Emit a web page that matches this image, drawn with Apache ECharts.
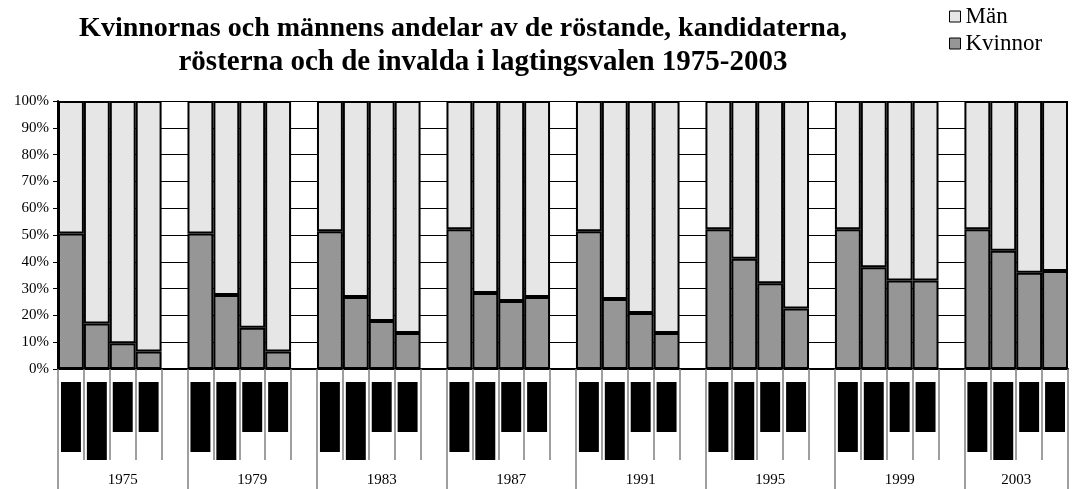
<!DOCTYPE html>
<html>
<head>
<meta charset="utf-8">
<script src="https://cdn.jsdelivr.net/npm/echarts@6/dist/echarts.min.js"></script>
<style>
html, body { margin: 0; padding: 0; background: #fff; }
#chart { width: 1084px; height: 489px; }
</style>
</head>
<body>
<div id="chart"></div>
<script>
// valår
const years = ['1975', '1979', '1983', '1987', '1991', '1995', '1999', '2003']

// kvinnornas andel (%) per valår
const kvinnorRostande = [50.6, 50.6, 51.4, 52.1, 51.4, 52.1, 52.1, 52.1]
const kvinnorKandidater = [17.0, 27.6, 26.9, 28.4, 26.1, 41.1, 38.0, 44.1]
const kvinnorRoster = [9.6, 15.4, 17.9, 25.4, 20.9, 32.0, 33.0, 35.9]
const kvinnorInvalda = [6.5, 6.5, 13.4, 26.9, 13.4, 22.6, 33.0, 36.6]

// männens andel (%) per valår
const manRostande = [49.4, 49.4, 48.6, 47.9, 48.6, 47.9, 47.9, 47.9]
const manKandidater = [83.0, 72.4, 73.1, 71.6, 73.9, 58.9, 62.0, 55.9]
const manRoster = [90.4, 84.6, 82.1, 74.6, 79.1, 68.0, 67.0, 64.1]
const manInvalda = [93.5, 93.5, 86.6, 73.1, 86.6, 77.4, 67.0, 63.4]

// svarta etikettblock under varje stapel (längd per mått)
const labelBlockLengths = [70, 78, 50, 50]

const yTicks = [0, 10, 20, 30, 40, 50, 60, 70, 80, 90, 100]

const kvinnorByMeasure = [kvinnorRostande, kvinnorKandidater, kvinnorRoster, kvinnorInvalda]
const manByMeasure = [manRostande, manKandidater, manRoster, manInvalda]

// bygg kategorier: 4 staplar per år + en tom lucka mellan grupperna
const categories = []
const kvinnorData = []
const manData = []
const blockData = []
const yearLabelAt = {}
years.forEach((year, g) => {
  const start = categories.length
  for (let m = 0; m < 4; m++) {
    categories.push(year + '-' + m)
    kvinnorData.push(kvinnorByMeasure[m][g])
    manData.push(manByMeasure[m][g])
    blockData.push(labelBlockLengths[m])
  }
  yearLabelAt[start + 2] = g
  if (g < years.length - 1) {
    categories.push(year + '-gap')
    kvinnorData.push('-')
    manData.push('-')
    blockData.push('-')
  }
})
const groupStarts = years.map((y, g) => g * 5)

const serif = "'Liberation Serif', 'Times New Roman', serif"

const chart = echarts.init(document.getElementById('chart'))
chart.setOption({
  animation: false,
  backgroundColor: '#fff',
  title: [
    {
      text: 'Kvinnornas och männens andelar av de röstande, kandidaterna,',
      left: 458,
      top: 10,
      textAlign: 'center',
      textStyle: { fontFamily: serif, fontSize: 28, fontWeight: 'bold', color: '#000' }
    },
    {
      text: 'rösterna och de invalda i lagtingsvalen 1975-2003',
      left: 478,
      top: 43,
      textAlign: 'center',
      textStyle: { fontFamily: serif, fontSize: 29, fontWeight: 'bold', color: '#000' }
    }
  ],
  legend: {
    data: ['Män', 'Kvinnor'],
    orient: 'vertical',
    left: 944,
    top: 0,
    itemWidth: 11,
    itemHeight: 11,
    itemGap: 4,
    icon: 'rect',
    itemStyle: { borderColor: '#000', borderWidth: 1 },
    textStyle: { fontFamily: serif, fontSize: 23, color: '#000' }
  },
  grid: [
    { left: 58, right: 16, top: 101, height: 268 },
    { left: 58, right: 16, top: 382, height: 80 }
  ],
  xAxis: [
    {
      type: 'category',
      gridIndex: 0,
      data: categories,
      axisLine: { lineStyle: { color: '#000', width: 2 } },
      axisTick: { show: true, interval: 0, length: 91, lineStyle: { color: '#808080', width: 1.5 } },
      axisLabel: { show: false }
    },
    {
      // gruppgränser och årtal
      type: 'category',
      gridIndex: 0,
      position: 'bottom',
      data: categories,
      axisLine: { show: false },
      axisTick: {
        show: true,
        length: 120,
        interval: (index) => groupStarts.includes(index),
        lineStyle: { color: '#808080', width: 1.5 }
      },
      axisLabel: {
        interval: 0,
        margin: 104,
        fontFamily: serif,
        fontSize: 15,
        color: '#000',
        formatter: (value, index) => {
          const g = yearLabelAt[index]
          if (g === undefined) return ''
          if (g === years.length - 1) return '{last|' + years[g] + '}'
          return years[g]
        },
        rich: {
          last: { fontFamily: serif, fontSize: 15, color: '#000', padding: [0, 26, 0, 0] }
        }
      }
    },
    {
      type: 'category',
      gridIndex: 1,
      data: categories,
      show: false
    }
  ],
  yAxis: [
    {
      type: 'value',
      gridIndex: 0,
      min: yTicks[0],
      max: yTicks[yTicks.length - 1],
      interval: 10,
      axisLine: { show: true, lineStyle: { color: '#000', width: 2 } },
      axisTick: { show: true, length: 5, lineStyle: { color: '#000' } },
      axisLabel: { formatter: '{value}%', fontFamily: serif, fontSize: 15, color: '#000', margin: 9 },
      splitLine: { lineStyle: { color: '#000', width: 1 } }
    },
    {
      type: 'value',
      gridIndex: 1,
      inverse: true,
      min: 0,
      max: 80,
      show: false
    }
  ],
  series: [
    {
      name: 'Kvinnor',
      type: 'bar',
      stack: 'andel',
      xAxisIndex: 0,
      yAxisIndex: 0,
      barWidth: '100%',
      data: kvinnorData,
      itemStyle: { color: '#969696', borderColor: '#000', borderWidth: 2 }
    },
    {
      name: 'Män',
      type: 'bar',
      stack: 'andel',
      xAxisIndex: 0,
      yAxisIndex: 0,
      barWidth: '100%',
      data: manData,
      itemStyle: { color: '#e6e6e6', borderColor: '#000', borderWidth: 2 }
    },
    {
      name: 'etiketter',
      type: 'bar',
      xAxisIndex: 2,
      yAxisIndex: 1,
      barWidth: '77%',
      data: blockData,
      itemStyle: { color: '#000' }
    }
  ]
})
</script>
</body>
</html>
